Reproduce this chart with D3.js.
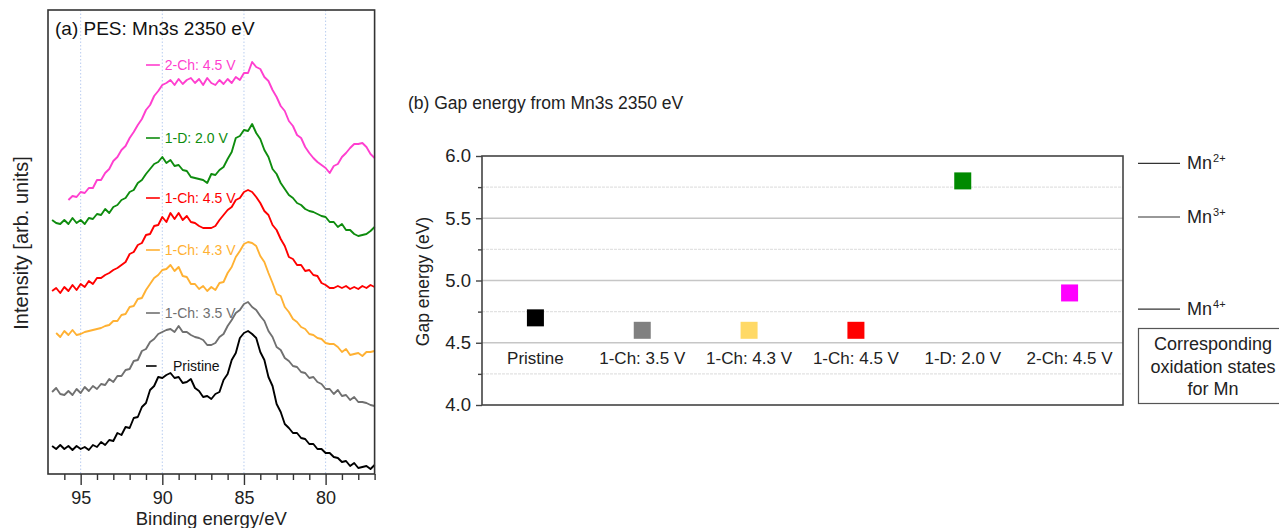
<!DOCTYPE html>
<html><head><meta charset="utf-8">
<script src="https://cdn.jsdelivr.net/npm/d3@7"></script>
<style>
html,body{margin:0;padding:0;background:#fff;}
svg{display:block;font-family:"Liberation Sans",Arial,sans-serif;}
</style></head><body>
<svg id="chart" width="1279" height="528"></svg>
<script>
// ---------- Panel (a) data: Mn3s PES spectra (binding energy in eV, intensity in arb. units incl. offset)
const energies = [96.75,96.5,96.25,96,95.75,95.5,95.25,95,94.75,94.5,
  94.25,94,93.75,93.5,93.25,93,92.75,92.5,92.25,92,
  91.75,91.5,91.25,91,90.75,90.5,90.25,90,89.75,89.5,
  89.25,89,88.75,88.5,88.25,88,87.75,87.5,87.25,87,
  86.75,86.5,86.25,86,85.75,85.5,85.25,85,84.75,84.5,
  84.25,84,83.75,83.5,83.25,83,82.75,82.5,82.25,82,
  81.75,81.5,81.25,81,80.75,80.5,80.25,80,79.75,79.5,
  79.25,79,78.75,78.5,78.25,78,77.75,77.5,77.25,77];
const pristine = [2.8,2.5,2.9,2.5,2.8,2.4,2.8,2.5,2.7,2.4,
  2.9,2.7,3.2,2.9,3.4,3.3,4.1,3.9,4.7,4.6,
  5.6,5.7,6.7,7.1,8.4,8.8,9.7,9.6,9.9,10.1,
  9.6,9.7,9.1,9.2,9.5,8.6,8.3,7.7,7.8,7.5,
  8.0,8.2,9.4,10.0,11.4,12.1,13.6,14.1,14.3,14.0,
  13.6,12.2,11.4,9.7,8.8,7.0,6.2,5.0,4.6,4.1,
  4.1,3.6,3.5,3.0,3.0,2.5,2.5,2.1,2.1,1.7,
  1.6,1.2,1.3,0.8,1.1,0.6,0.7,0.8,0.5,0.9];
const ch1_35 = [8.2,8.6,8.0,7.9,8.3,7.9,8.5,8.1,8.7,8.3,
  8.8,8.5,9.0,8.9,9.5,9.2,9.8,9.8,10.4,10.5,
  11.3,11.4,12.3,12.5,13.2,13.5,14.0,14.2,14.4,14.5,
  14.2,14.8,14.2,14.2,13.9,13.7,13.6,13.4,12.9,12.9,
  13.1,13.7,14.0,14.8,15.4,16.1,16.4,17.0,17.2,16.7,
  16.4,15.8,15.3,14.3,13.7,12.7,12.4,11.6,11.3,10.8,
  10.7,10.2,10.1,9.6,9.7,9.2,9.0,8.5,8.5,8.0,
  8.4,7.8,7.9,7.4,7.7,7.2,7.2,7.1,6.9,6.8];
const ch1_43 = [null,14.1,13.7,14.3,13.9,14.4,13.9,14.0,14.2,14.3,
  14.4,14.5,14.6,14.8,14.9,15.3,15.3,15.9,16.0,16.7,
  16.8,17.5,17.6,18.4,19.0,19.6,19.9,20.4,20.5,20.9,
  20.3,20.7,19.8,19.7,19.0,19.0,18.5,18.8,18.3,18.7,
  18.4,19.1,19.2,20.1,20.7,21.7,22.3,23.0,23.2,23.1,
  22.8,21.8,21.2,20.1,19.1,18.0,17.8,16.7,16.2,15.5,
  15.2,14.7,14.5,14.0,13.9,13.6,13.5,13.1,13.0,13.0,
  12.7,12.2,12.5,11.9,12.0,12.1,11.8,12.2,12.2,12.3];
const ch1_45 = [18.3,18.6,18.1,18.7,18.3,18.9,18.4,19.0,18.7,19.3,
  19.0,19.6,19.6,19.9,20.1,20.4,20.6,20.9,21.2,22.0,
  22.2,22.9,23.1,23.9,24.0,24.8,24.9,25.7,25.2,26.1,
  25.5,26.1,25.4,25.8,25.2,25.1,24.8,24.6,24.6,24.6,
  24.8,25.4,25.9,26.4,26.7,27.4,27.6,28.2,28.4,28.2,
  27.7,27.1,26.3,25.9,24.9,24.4,23.5,22.8,21.7,21.5,
  20.9,20.9,20.3,20.4,19.9,19.8,19.1,18.9,18.6,18.6,
  18.8,18.6,18.8,18.5,18.7,18.5,18.8,18.6,18.9,18.7];
const d1_20 = [25.4,25.1,25.0,25.4,25.0,25.6,25.1,25.4,25.0,25.6,
  25.5,26.0,25.9,26.5,26.1,26.7,26.9,27.4,27.6,28.2,
  28.4,29.1,29.4,30.0,30.5,31.0,31.2,31.7,31.1,31.4,
  30.8,30.9,30.4,30.3,29.7,29.6,29.5,29.4,29.1,30.0,
  29.9,30.4,30.7,31.5,32.2,33.6,33.8,34.4,34.3,35.0,
  34.1,33.5,32.4,31.7,30.5,30.0,29.1,28.5,27.9,27.6,
  27.1,26.9,26.5,26.3,26.2,26.0,25.8,25.7,25.2,25.2,
  24.7,25.0,24.4,24.4,24.0,23.8,23.9,24.0,24.3,24.7];
const ch2_45 = [null,null,null,null,27.4,27.8,27.7,28.2,28.1,28.6,
  28.6,29.4,29.4,30.1,30.5,31.3,31.7,32.4,32.8,33.6,
  34.2,34.9,35.5,36.4,36.9,37.8,38.3,38.9,39.1,39.4,
  38.9,39.5,39.0,39.4,39.6,39.1,39.5,38.9,39.6,39.1,
  38.9,39.4,39.0,39.5,39.1,39.7,39.4,40.1,40.1,41.2,
  40.7,40.5,39.7,39.3,38.4,37.7,36.8,36.3,35.3,34.8,
  33.9,33.6,32.7,32.1,31.6,31.2,30.9,30.6,30.1,30.8,
  31.0,31.7,32.1,32.6,33.0,33.0,33.1,32.7,32.0,31.6];
const sampleNames = ["Pristine","1-Ch: 3.5 V","1-Ch: 4.3 V","1-Ch: 4.5 V","1-D: 2.0 V","2-Ch: 4.5 V"];
const labelLevels = [10.8,16.1,22.4,27.6,33.6,40.9];
const xMajorTicks = [95,90,85,80];
const xMinorTicks = [96,94,93,92,91,89,88,87,86,84,83,82,81,79,78,77];

// ---------- Panel (b) data: gap energy
const gapValues = [4.7,4.6,4.6,4.6,5.8,4.9];
const gapTicks = [4.0,4.5,5.0,5.5,6.0];
const gapMinorTicks = [4.25,4.75,5.25,5.75];
const oxStates = ["2+","3+","4+"];
const oxLevels = [5.94,5.51,4.77];

const lineColors = ["#000000","#707070","#ffb133","#ff0000","#0e8c0e","#ff3fcf"];
const squareColors = ["#000000","#808080","#ffd966","#ff0000","#008a00","#ff00ff"];
const spectra = [pristine,ch1_35,ch1_43,ch1_45,d1_20,ch2_45];

const svg = d3.select("#chart");

// ================= Panel (a) =================
const ax = {l:48, r:374.6, t:10, b:474};
const x = d3.scaleLinear().domain([97,77]).range([ax.l, ax.r]);
const y = d3.scaleLinear().domain([0,46.4]).range([ax.b, ax.t]);
const ga = svg.append("g");

// dotted vertical grid
ga.selectAll("line.vg").data(xMajorTicks).enter().append("line")
  .attr("x1",d=>x(d)).attr("x2",d=>x(d)).attr("y1",ax.t).attr("y2",ax.b)
  .attr("stroke","#b9cdf0").attr("stroke-width",1).attr("stroke-dasharray","1.5,2");

const line = d3.line().defined(d=>d[1]!==null).x(d=>x(d[0])).y(d=>y(d[1]));
spectra.forEach((s,i)=>{
  ga.append("path").datum(energies.map((e,j)=>[e,s[j]]))
    .attr("d",line).attr("fill","none").attr("stroke",lineColors[i])
    .attr("stroke-width",1.9).attr("stroke-linejoin","round");
});

// curve labels
sampleNames.forEach((n,i)=>{
  const yy = y(labelLevels[i]);
  const x0 = x(91.0), x1 = x(i===0 ? 90.35 : 90.15);
  ga.append("line").attr("x1",x0).attr("x2",x1).attr("y1",yy).attr("y2",yy)
    .attr("stroke",lineColors[i]).attr("stroke-width",1.6);
  ga.append("text").attr("x", i===0 ? x(89.35) : x(89.85)).attr("y",yy).attr("dy","0.35em")
    .attr("font-size",14).attr("fill", i===0 ? "#111" : lineColors[i]).text(n);
});

// frame
ga.append("rect").attr("x",ax.l).attr("y",ax.t).attr("width",ax.r-ax.l).attr("height",ax.b-ax.t)
  .attr("fill","none").attr("stroke","#333").attr("stroke-width",1.6);

// axes
const xa = ga.append("g").attr("transform",`translate(0,${ax.b})`)
  .call(d3.axisBottom(x).tickValues(xMajorTicks).tickSize(11).tickPadding(6).tickFormat(d3.format("d")));
const xm = ga.append("g").attr("transform",`translate(0,${ax.b})`)
  .call(d3.axisBottom(x).tickValues(xMinorTicks).tickSize(6).tickFormat(""));
[xa,xm].forEach(g=>{g.select(".domain").remove();
  g.selectAll("line").attr("stroke","#333").attr("stroke-width",1.4);});
xa.selectAll("text").attr("font-size",18).attr("fill","#222").attr("font-family","Liberation Sans, Arial, sans-serif");

ga.append("text").attr("x",(ax.l+ax.r)/2).attr("y",525).attr("text-anchor","middle")
  .attr("font-size",18.5).attr("fill","#222").text("Binding energy/eV");
ga.append("text").attr("transform",`translate(28,${(ax.t+ax.b)/2+1}) rotate(-90)`)
  .attr("text-anchor","middle").attr("font-size",20).attr("fill","#222").text("Intensity [arb. units]");
ga.append("text").attr("x",55).attr("y",35).attr("font-size",19).attr("fill","#111")
  .text("(a) PES: Mn3s 2350 eV");

// ================= Panel (b) =================
const bx = {l:482, r:1123, t:156, b:405};
const xb = d3.scaleBand().domain(sampleNames).range([bx.l,bx.r]);
const yb = d3.scaleLinear().domain([4,6]).range([bx.b,bx.t]);
const gb = svg.append("g");

gb.append("text").attr("x",408).attr("y",109).attr("font-size",17.5).attr("fill","#222")
  .text("(b) Gap energy from Mn3s 2350 eV");

gb.selectAll("line.mg").data(gapMinorTicks).enter().append("line")
  .attr("x1",bx.l).attr("x2",bx.r).attr("y1",d=>yb(d)).attr("y2",d=>yb(d))
  .attr("stroke","#e2e2e2").attr("stroke-width",1.2).attr("stroke-dasharray","3,1");
gb.selectAll("line.Mg").data(gapTicks.filter(t=>t>4&&t<6)).enter().append("line")
  .attr("x1",bx.l).attr("x2",bx.r).attr("y1",d=>yb(d)).attr("y2",d=>yb(d))
  .attr("stroke","#c6c6c6").attr("stroke-width",1.4);

gb.append("rect").attr("x",bx.l).attr("y",bx.t).attr("width",bx.r-bx.l).attr("height",bx.b-bx.t)
  .attr("fill","none").attr("stroke","#444").attr("stroke-width",1.6);

const ya = gb.append("g").attr("transform",`translate(${bx.l},0)`)
  .call(d3.axisLeft(yb).tickValues(gapTicks).tickSize(6).tickPadding(5).tickFormat(d3.format(".1f")));
const ym = gb.append("g").attr("transform",`translate(${bx.l},0)`)
  .call(d3.axisLeft(yb).tickValues(gapMinorTicks).tickSize(4).tickFormat(""));
[ya,ym].forEach(g=>{g.select(".domain").remove();
  g.selectAll("line").attr("stroke","#444").attr("stroke-width",1.4);});
ya.selectAll("text").attr("font-size",18.5).attr("fill","#222").attr("font-family","Liberation Sans, Arial, sans-serif");

gb.append("text").attr("transform",`translate(429,${(bx.t+bx.b)/2+1}) rotate(-90)`)
  .attr("text-anchor","middle").attr("font-size",17.5).attr("fill","#222").text("Gap energy (eV)");

const sq = 17;
gb.selectAll("rect.pt").data(gapValues).enter().append("rect")
  .attr("x",(d,i)=>xb(sampleNames[i])+xb.bandwidth()/2-sq/2)
  .attr("y",d=>yb(d)-sq/2).attr("width",sq).attr("height",sq)
  .attr("fill",(d,i)=>squareColors[i]);

gb.selectAll("text.cat").data(sampleNames).enter().append("text")
  .attr("x",d=>xb(d)+xb.bandwidth()/2).attr("y",yb(4.5)+21)
  .attr("text-anchor","middle").attr("font-size",17).attr("fill","#222").text(d=>d);

// oxidation state references
oxLevels.forEach((v,i)=>{
  gb.append("line").attr("x1",1138).attr("x2",1180).attr("y1",yb(v)).attr("y2",yb(v))
    .attr("stroke","#333").attr("stroke-width",1.2);
  const t = gb.append("text").attr("x",1187).attr("y",yb(v)+6).attr("font-size",18).attr("fill","#222");
  t.append("tspan").text("Mn");
  t.append("tspan").attr("font-size",11).attr("dy",-7).attr("dx",1).text(oxStates[i]);
});
gb.append("rect").attr("x",1138.5).attr("y",328.5).attr("width",160).attr("height",75)
  .attr("fill","none").attr("stroke","#555").attr("stroke-width",1.2);
["Corresponding","oxidation states","for Mn"].forEach((s,i)=>{
  gb.append("text").attr("x",1213).attr("y",350+i*22.5).attr("text-anchor","middle")
    .attr("font-size",18).attr("fill","#222").text(s);
});
</script>
</body></html>
